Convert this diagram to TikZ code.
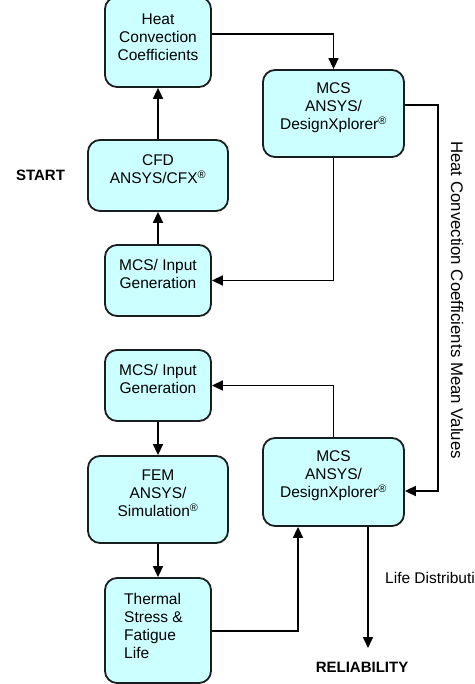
\documentclass[tikz,border=0pt]{standalone}
\usepackage{fontspec}
\setmainfont{Liberation Sans}
\usetikzlibrary{arrows.meta}
\definecolor{boxfill}{RGB}{204,255,255}
\definecolor{boxline}{RGB}{25,30,30}
\tikzset{
  box/.style={draw=boxline, line width=1.8pt, fill=boxfill, rounded corners=12pt, inner sep=0pt},
  txt/.style={align=center, font=\fontsize{15.5}{18}\selectfont, inner sep=0pt},
  conn/.style={line width=1.6pt, draw=black},
  arr/.style={conn, -{Triangle[length=11pt,width=10pt]}},
  lbl/.style={font=\fontsize{15.5}{18}\selectfont, inner sep=0pt},
  blbl/.style={font=\bfseries\fontsize{15}{18}\selectfont, inner sep=0pt}
}
\newcommand{\reg}{\textsuperscript{\textregistered}}
\begin{document}
\begin{tikzpicture}[x=1pt,y=-1pt]
\clip (0,0) rectangle (474,684);
\fill[white] (0,0) rectangle (474,684);
% boxes
\node[box, minimum width=106pt, minimum height=90pt] (heat) at (158,42) {};
\node[box, minimum width=141pt, minimum height=87pt] (mcsA) at (333.5,113.5) {};
\node[box, minimum width=140pt, minimum height=71pt] (cfd) at (158,175.5) {};
\node[box, minimum width=106pt, minimum height=71pt] (inA) at (158,280.5) {};
\node[box, minimum width=106pt, minimum height=71pt] (inB) at (158,385.5) {};
\node[box, minimum width=141pt, minimum height=88pt] (mcsB) at (333.5,482) {};
\node[box, minimum width=140pt, minimum height=87pt] (fem) at (158,499.5) {};
\node[box, minimum width=106pt, minimum height=105pt] (therm) at (158,630.5) {};
% texts
\node[txt] (heatT) at (158,37) {Heat\\Convection\\Coefficients};
\node[txt] (mcsAT) at (333.5,107.5) {MCS\\ANSYS/\\DesignXplorer\reg};
\node[txt] (cfdT) at (158,169) {CFD\\ANSYS/CFX\reg};
\node[txt] (inAT) at (158,274) {MCS/ Input\\Generation};
\node[txt] (inBT) at (158,379) {MCS/ Input\\Generation};
\node[txt] (mcsBT) at (333.5,475.5) {MCS\\ANSYS/\\DesignXplorer\reg};
\node[txt] (femT) at (158,493.5) {FEM\\ANSYS/\\Simulation\reg};
\node[txt, align=left, anchor=west] (thermT) at (124,625.5) {Thermal\\Stress \&\\Fatigue\\Life};
% labels
\node[blbl] (start) at (40.5,175) {START};
\node[blbl] (rel) at (362,667) {RELIABILITY};
\node[lbl, anchor=west] (life) at (385,578) {Life Distribution};
\node[lbl, rotate=-90, font=\fontsize{16.8}{18}\selectfont] (hcmv) at (457,300) {Heat Convection Coefficients Mean Values};
% connectors
\coordinate (endRel) at (368,648);
\draw[arr] (cfd.north) -- (heat.south);
\draw[arr] (inA.north) -- (cfd.south);
\draw[arr] (heat.east |- 0,34) -| (mcsA.north);
\draw[arr] (mcsA.south) |- (inA.east);
\draw[arr] (mcsA.east |- 0,105) -- (438,105) |- (mcsB.east |- 0,491);
\draw[arr] (mcsB.north) |- (inB.east);
\draw[arr] (inB.south) -- (fem.north);
\draw[arr] (fem.south) -- (therm.north);
\draw[arr] (therm.east |- 0,631) -| (mcsB.south -| 298,0);
\draw[arr] (mcsB.south -| 368,0) -- (endRel);
\end{tikzpicture}
\end{document}
